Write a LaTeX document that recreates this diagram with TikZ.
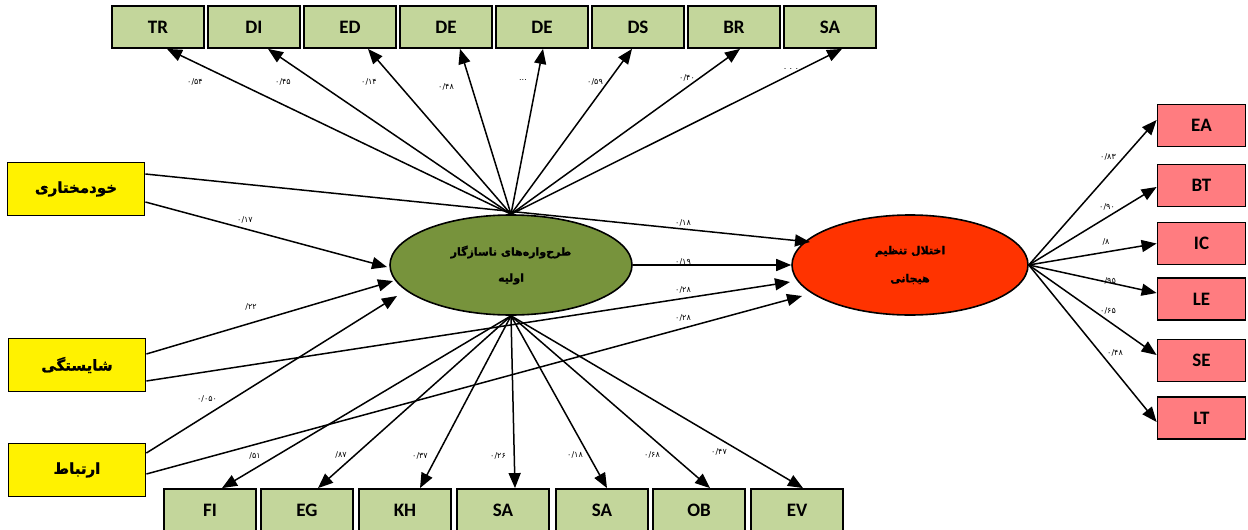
\documentclass[tikz,border=0pt]{standalone}
\usepackage{fontspec}
\usetikzlibrary{shapes.geometric,arrows.meta,calc}
\setmainfont{Carlito}
\newfontfamily\fa[Script=Arabic, BoldFeatures={FakeBold=1.2}]{DejaVu Sans}
\newfontfamily\fadig{DejaVu Sans}
\TeXXeTstate=1
\definecolor{boxgreen}{HTML}{C3D69B}
\definecolor{boxred}{HTML}{FF7C80}
\definecolor{olivefill}{HTML}{77933C}
\definecolor{redfill}{HTML}{FF3300}
\tikzset{
  gbox/.style={draw=black, line width=1.8pt, fill=boxgreen, minimum width=92pt, minimum height=42pt, inner sep=0pt, font=\bfseries\fontsize{19}{19}\selectfont},
  rbox/.style={draw=black, line width=1.8pt, fill=boxred, minimum width=88pt, minimum height=42pt, inner sep=0pt, font=\bfseries\fontsize{19}{19}\selectfont},
  ybox/.style={draw=black, line width=1.8pt, fill=yellow, minimum width=137pt, minimum height=53pt, inner sep=0pt, font=\fa\bfseries\fontsize{15}{15}\selectfont},
  ell/.style={draw=black, line width=1.6pt, ellipse, inner sep=0pt, align=center, font=\fa\bfseries\fontsize{11}{11}\selectfont},
  lab/.style={font=\fadig\fontsize{8}{8}\selectfont, inner sep=1pt},
  arr/.style={-{Triangle[length=15pt,width=12pt]}, line width=1.5pt}
}
\begin{document}
\begin{tikzpicture}[x=1pt,y=-1pt]
\useasboundingbox (0,0) rectangle (1248,530);
\clip (0,0) rectangle (1248,530);
% top boxes
\node[gbox] (tr) at (158,27) {TR};
\node[gbox] (di) at (254,27) {DI};
\node[gbox] (ed) at (350,27) {ED};
\node[gbox] (de) at (446,27) {DE};
\node[gbox] (deb) at (542,27) {DE};
\node[gbox] (ds) at (638,27) {DS};
\node[gbox] (br) at (734,27) {BR};
\node[gbox] (sat) at (830,27) {SA};
% bottom boxes
\node[gbox] (fi) at (210,510) {FI};
\node[gbox] (eg) at (307,510) {EG};
\node[gbox] (kh) at (405,510) {KH};
\node[gbox] (saa) at (503,510) {SA};
\node[gbox] (sab) at (602,510) {SA};
\node[gbox] (ob) at (699,510) {OB};
\node[gbox] (ev) at (797,510) {EV};
% right boxes
\node[rbox] (ea) at (1201.5,125.5) {EA};
\node[rbox] (bt) at (1201.5,185.5) {BT};
\node[rbox] (ic) at (1201.5,243.5) {IC};
\node[rbox] (le) at (1201.5,299) {LE};
\node[rbox] (se) at (1201.5,360.5) {SE};
\node[rbox] (lt) at (1201.5,418) {LT};
% left boxes
\node[ybox] (ya) at (76,189) {\beginR خودمختاری\endR};
\node[ybox] (yb) at (77,365) {\beginR شایستگی\endR};
\node[ybox] (yc) at (77,470) {\beginR ارتباط\endR};
% ellipses
\node[ell, fill=olivefill, minimum width=242pt, minimum height=100pt] (e1) at (511,265) {\beginR طرح‌واره‌های ناسازگار\endR\\[14pt]\beginR اولیه\endR};
\node[ell, fill=redfill, minimum width=236pt, minimum height=100pt] (e2) at (910,265) {\beginR اختلال تنظیم\endR\\[16pt]\beginR هیجانی\endR};
% top arrows
\draw[arr] (e1.north) -- ($(tr.south)+(9,0)$);
\draw[arr] (e1.north) -- ($(di.south)+(14,0)$);
\draw[arr] (e1.north) -- ($(ed.south)+(18,0)$);
\draw[arr] (e1.north) -- ($(de.south)+(14,0)$);
\draw[arr] (e1.north) -- ($(deb.south)+(1,0)$);
\draw[arr] (e1.north) -- ($(ds.south)+(-6,0)$);
\draw[arr] (e1.north) -- ($(br.south)+(6,0)$);
\draw[arr] (e1.north) -- ($(sat.south)+(12,0)$);
% bottom arrows
\draw[arr] (e1.south) -- ($(fi.north)+(12,0)$);
\draw[arr] (e1.south) -- ($(eg.north)+(11,0)$);
\draw[arr] (e1.south) -- ($(kh.north)+(15,0)$);
\draw[arr] (e1.south) -- ($(saa.north)+(12,0)$);
\draw[arr] (e1.south) -- ($(sab.north)+(5,0)$);
\draw[arr] (e1.south) -- ($(ob.north)+(11,0)$);
\draw[arr] (e1.south) -- ($(ev.north)+(6,0)$);
% right arrows
\draw[arr] (e2.east) -- ($(ea.west)+(0,-5.5)$);
\draw[arr] (e2.east) -- ($(bt.west)+(0,1.5)$);
\draw[arr] (e2.east) -- (ic.west);
\draw[arr] (e2.east) -- ($(le.west)+(0,-6)$);
\draw[arr] (e2.east) -- ($(se.west)+(0,-5.5)$);
\draw[arr] (e2.east) -- ($(lt.west)+(0,4)$);
% left arrows
\draw[arr] ($(ya.east)+(0,-15)$) -- ($(e2.center)+(-100,-23)$);
\draw[arr] ($(ya.east)+(0,13)$) -- ($(e1.center)+(-124,2)$);
\draw[arr] ($(yb.east)+(0,-11)$) -- ($(e1.center)+(-118,16)$);
\draw[arr] ($(yb.east)+(0,16)$) -- ($(e2.center)+(-120,17)$);
\draw[arr] ($(yc.east)+(0,-17)$) -- ($(e1.center)+(-114,31)$);
\draw[arr] ($(yc.east)+(0,4)$) -- ($(e2.center)+(-108,31)$);
\draw[arr] (e1.east) -- (e2.west);
% labels top
\node[lab] (l1) at (195,82) {۰/۵۴};
\node[lab] (l2) at (283,82) {۰/۴۵};
\node[lab] (l3) at (369,82) {۰/۱۴};
\node[lab] (l4) at (446,87) {۰/۴۸};
\node[lab] (l5) at (523,80) {...};
\node[lab] (l6) at (595,82) {۰/۵۹};
\node[lab] (l7) at (687,78) {۰/۴۰};
\node[lab] (l8) at (791,69) {. . .};
% labels middle
\node[lab] (m1) at (245,220) {۰/۱۷};
\node[lab] (m2) at (683,223) {۰/۱۸};
\node[lab] (m3) at (683,262) {۰/۱۹};
\node[lab] (m4) at (683,290) {۰/۲۸};
\node[lab] (m5) at (683,318) {۰/۲۸};
\node[lab] (m6) at (251,307) {/۲۲};
\node[lab] (m7) at (207,399) {۰/۰۵۰};
% labels bottom
\node[lab] (b1) at (255,456) {/۵۱};
\node[lab] (b2) at (341,455) {/۸۷};
\node[lab] (b3) at (420,456) {۰/۳۷};
\node[lab] (b4) at (498,456) {۰/۲۶};
\node[lab] (b5) at (575,455) {۰/۱۸};
\node[lab] (b6) at (652,455) {۰/۶۸};
\node[lab] (b7) at (719,452) {۰/۴۷};
% labels right
\node[lab] (r1) at (1108,157) {۰/۸۳};
\node[lab] (r2) at (1107,207) {۰/۹۰};
\node[lab] (r3) at (1106,242) {/۸};
\node[lab] (r4) at (1108,281) {۰/۹۵};
\node[lab] (r5) at (1108,311) {۰/۶۵};
\node[lab] (r6) at (1115,353) {۰/۴۸};
\end{tikzpicture}
\end{document}
